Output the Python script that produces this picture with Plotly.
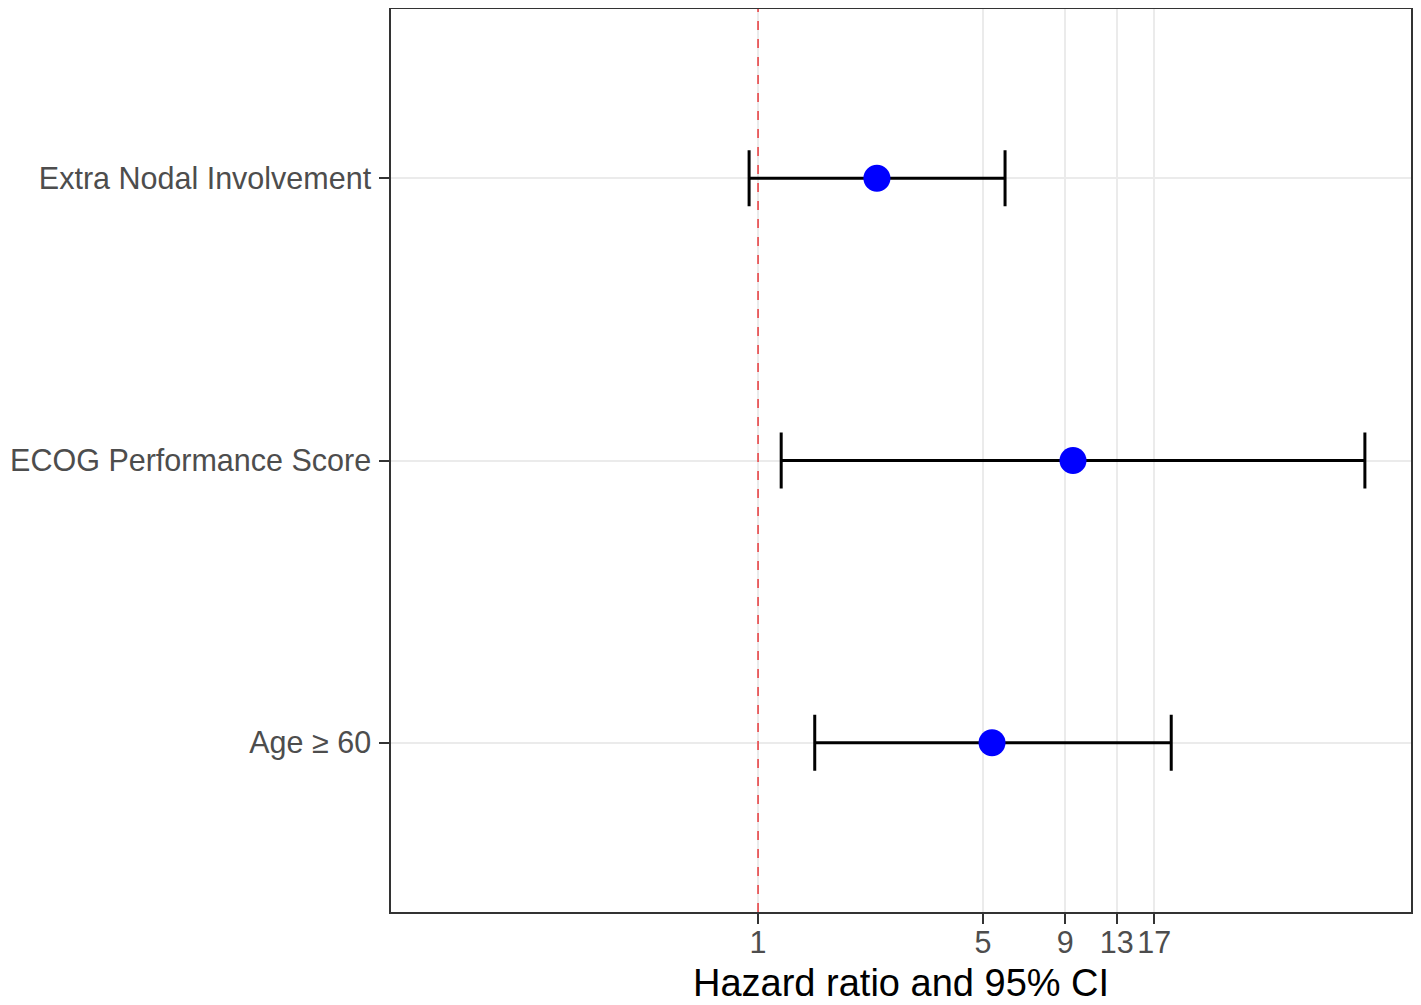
import plotly.graph_objects as go

categories = ["Age \u2265 60", "ECOG Performance Score", "Extra Nodal Involvement"]
hr = [5.33, 9.51, 2.34]
ci_low = [1.50, 1.18, 0.938]
ci_high = [19.2, 76.7, 5.85]
x_ticks = [1, 5, 9, 13, 17]
x_title = "Hazard ratio and 95% CI"

fig = go.Figure()
fig.add_trace(go.Scatter(
    x=hr, y=categories, mode="markers",
    marker=dict(color="#0000ff", size=27, line=dict(width=0)),
    error_x=dict(type="data", symmetric=False,
                 array=[h - m for h, m in zip(ci_high, hr)],
                 arrayminus=[m - l for m, l in zip(hr, ci_low)],
                 color="black", thickness=3, width=28),
    showlegend=False,
))

fig.add_shape(type="line", xref="x", yref="paper", x0=1, x1=1, y0=0, y1=1,
              line=dict(color="#e8393b", width=1.5, dash="dash"), layer="above")

fig.add_annotation(text=x_title, xref="paper", yref="paper", x=0.5, y=0,
                   xanchor="center", yanchor="middle", yshift=-71,
                   showarrow=False, font=dict(size=38, color="black"))

fig.update_layout(
    width=1405, height=997,
    margin=dict(l=383, r=2, t=1, b=93),
    paper_bgcolor="white", plot_bgcolor="white",
    font=dict(family="Liberation Sans, Arial, sans-serif", size=30.5, color="#4d4d4d"),
    xaxis=dict(type="log", range=[-1.140, 2.028], tickvals=x_ticks,
               ticktext=[str(v) for v in x_ticks],
               showgrid=True, gridcolor="#ebebeb", gridwidth=2,
               ticks="outside", ticklen=10, tickwidth=2, tickcolor="#333333",
               showline=True, linecolor="#333333", linewidth=1.5, mirror=True,
               zeroline=False, ticklabelstandoff=-7, automargin=False),
    yaxis=dict(type="category", categoryorder="array", categoryarray=categories,
               range=[-0.6, 2.6],
               showgrid=True, gridcolor="#ebebeb", gridwidth=2,
               ticks="outside", ticklen=10, tickwidth=2, tickcolor="#333333",
               showline=True, linecolor="#333333", linewidth=1.5, mirror=True,
               zeroline=False, ticklabelstandoff=2, automargin=False),
)

fig.write_html("out.html")
